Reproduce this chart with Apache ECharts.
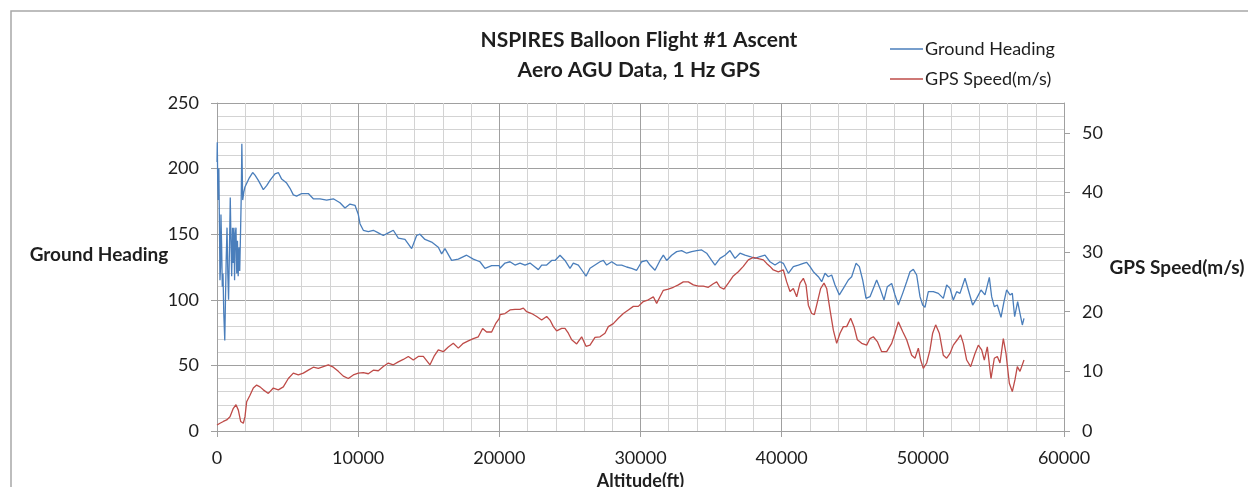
<!DOCTYPE html>
<html>
<head>
<meta charset="utf-8">
<title>NSPIRES Balloon Flight #1 Ascent</title>
<script src="https://cdn.jsdelivr.net/npm/echarts@6/dist/echarts.min.js"></script>
<style>
  html, body { margin: 0; padding: 0; background: #ffffff; }
  #chart { width: 1248px; height: 487px; }
</style>
</head>
<body>
<div id="chart"></div>
<script>
// Ground heading (deg) against altitude (ft)
const headingAlt = [
  0, 20, 50, 85, 130, 180, 210, 250, 280, 330, 375, 425, 480, 550, 600, 650, 710, 765, 820, 885,
  940, 990, 1040, 1100, 1150, 1200, 1245, 1295, 1345, 1400, 1450, 1500, 1560, 1610, 1665, 1720, 1760, 1820, 1900, 1980,
  2101, 2290, 2526, 2692, 2928, 3282, 3518, 3754, 4108, 4344, 4580, 4934, 5171, 5407, 5643, 5997, 6469, 6823, 7295, 7768,
  8240, 8712, 9066, 9420, 9775, 10011, 10129, 10365, 10719, 11073, 11427, 11781, 12136, 12490, 12844, 13316, 13788, 14142, 14378, 14733,
  15205, 15677, 15913, 16149, 16621, 17093, 17683, 18156, 18628, 18982, 19455, 19998,
  20048, 20402, 20756, 21110, 21465, 21819, 22173, 22527, 22763, 22999, 23353, 23708, 23944, 24298, 24652, 25006, 25242, 25596, 25951, 26140,
  26423, 26777, 27131, 27367, 27603, 27957, 28312, 28666, 29020, 29374, 29728, 30082, 30436, 30673, 31027, 31381, 31617, 31853, 32207, 32561,
  32915, 33270, 33624, 33978, 34332, 34686, 35040, 35276, 35631, 35985, 36339, 36693, 37047, 37401, 37756, 38110, 38464, 38818, 39172, 39527, 39880,
  40119, 40473, 40827, 41182, 41536, 41772, 42008, 42244, 42598, 42834, 43070, 43306, 43543, 43779, 44086, 44369, 44723, 44959, 45266, 45502,
  45738, 45974, 46258, 46541, 46730, 46966, 47249, 47485, 47792, 48028, 48265, 48572, 48855, 49091, 49327, 49563, 49799, 49988, 50153, 50389,
  50744, 51098, 51452, 51688, 51924, 52160, 52396, 52632, 52987, 53223, 53530, 53813, 54120, 54403, 54710, 54875, 55064, 55277, 55537, 55749,
  55938, 56174, 56339, 56504, 56717, 56882, 57048, 57166
];
const headingVal = [
  205, 220, 190, 176, 200, 150, 115, 125, 165, 140, 110, 120, 90, 69, 100, 130, 155, 120, 100, 140,
  178, 145, 118, 155, 128, 155, 115, 150, 155, 120, 145, 118, 140, 122, 150, 180, 219, 176, 182, 186,
  185, 193, 197, 195, 191, 184, 187, 191, 196, 197, 192, 189, 185, 180, 179, 181, 181, 177, 177, 176,
  177, 174, 170, 173, 172, 165, 158, 153, 152, 153, 151, 149, 151, 153, 147, 146, 139, 149, 150, 146,
  144, 140, 135, 139, 130, 131, 134, 131, 129, 124, 126, 126,
  124, 128, 129, 126.5, 128, 126.5, 128, 125, 123, 126.5, 126.5, 130, 130, 134, 130, 124, 128, 126.5, 121, 118,
  124, 126.5, 129, 130, 126.5, 129, 126.5, 126.5, 125, 124, 122.5, 129, 130, 126.5, 122.5, 130, 134, 130, 134, 136.7,
  137.5, 135.5, 136.7, 137.5, 138, 135.5, 130, 126.5, 131.6, 134, 137.5, 131.6, 135.5, 134, 133, 131.6, 133, 134, 129, 126.5, 129,
  127.8, 120.2, 125.3, 126.5, 127.8, 128.6, 125.3, 121.4, 117.6, 113.8, 120.2, 117.6, 118.9, 111.3, 103.7, 108.7, 115.1, 117.6, 127.8, 125.3,
  115.1, 101.1, 102.4, 110, 115.1, 108.7, 99.8, 110, 112.5, 103.7, 96, 104.9, 113.8, 121.4, 123.2, 118.9, 102.4, 96, 94.3, 106.2,
  106.2, 104.9, 101.1, 111.3, 108.7, 99.8, 106.2, 104.9, 116.4, 107.5, 96, 101.1, 107.5, 103.7, 117.1, 102.4, 94.8, 96, 86.6, 98.6,
  107.5, 103.7, 104.9, 87.1, 98.6, 89.7, 80.8, 85.9
];

// GPS speed (m/s) against altitude (ft)
const speedAlt = [
  0, 212, 449, 685, 921, 1157, 1346, 1511, 1676, 1865, 1983, 2101, 2337, 2573, 2810, 3046, 3282, 3636, 3990, 4344,
  4698, 5053, 5407, 5761, 6115, 6469, 6823, 7177, 7532, 7886, 8240, 8594, 8948, 9302, 9656, 10011, 10365, 10719, 11073, 11427,
  11781, 12136, 12490, 12844, 13198, 13552, 13906, 14260, 14615, 15087, 15370, 15677, 16031, 16385, 16739, 17094, 17448, 17802, 18156, 18510,
  18817, 19100, 19455, 19761, 19998,
  20048, 20402, 20756, 21110, 21465, 21701, 21937, 22291, 22645, 22999, 23353, 23590, 23826, 24062, 24416, 24652, 24888, 25124, 25478, 25832,
  26140, 26423, 26777, 27131, 27485, 27721, 28075, 28430, 28784, 29138, 29492, 29846, 30200, 30554, 30908, 31145, 31381, 31617, 31971, 32325,
  32679, 33034, 33388, 33742, 34096, 34450, 34804, 35158, 35395, 35631, 35914, 36221, 36575, 36929, 37283, 37637, 37992, 38346, 38700, 38936,
  39172, 39408, 39762,
  40119, 40355, 40591, 40827, 41064, 41300, 41536, 41725, 41890, 42126, 42315, 42480, 42763, 42999, 43188, 43425, 43661, 43897, 44133, 44369,
  44605, 44888, 45124, 45361, 45667, 46022, 46258, 46494, 46777, 47084, 47438, 47792, 48028, 48265, 48572, 48855, 49209, 49445, 49681, 49846,
  50035, 50271, 50507, 50696, 50909, 51168, 51452, 51688, 51924, 52160, 52443, 52679, 52868, 53105, 53388, 53695, 53931, 54167, 54356, 54568,
  54828, 55064, 55277, 55466, 55702, 55891, 56127, 56339, 56528, 56693, 56882, 57166
];
const speedVal = [
  1.0, 1.3, 1.6, 1.85, 2.4, 3.8, 4.4, 3.5, 1.6, 1.3, 2.4, 4.9, 6.0, 7.2, 7.7, 7.4, 6.9, 6.3, 7.2, 6.9,
  7.4, 8.8, 9.7, 9.4, 9.7, 10.2, 10.7, 10.5, 10.8, 11.1, 10.7, 10.0, 9.2, 8.8, 9.4, 9.7, 9.8, 9.6, 10.2, 10.1,
  10.8, 11.4, 11.1, 11.6, 12.0, 12.5, 11.9, 12.5, 12.5, 11.1, 12.5, 13.6, 13.3, 14.1, 14.7, 13.9, 14.7, 15.1, 15.5, 15.8,
  17.2, 16.6, 16.6, 18.1, 18.9,
  19.5, 19.7, 20.3, 20.4, 20.4, 20.6, 20.0, 19.7, 19.2, 18.6, 19.2, 18.6, 17.5, 16.8, 17.2, 17.2, 16.4, 15.3, 14.6, 15.8,
  14.2, 14.4, 15.7, 15.8, 16.4, 17.5, 18.0, 18.9, 19.7, 20.3, 20.9, 20.9, 21.7, 22.0, 22.5, 21.4, 22.5, 23.6, 23.8, 24.1,
  24.5, 25.0, 25.0, 24.5, 24.3, 24.3, 24.1, 24.7, 25.0, 24.1, 23.8, 24.8, 26.0, 26.7, 27.6, 28.7, 29.1, 28.9, 28.7, 28.1,
  27.6, 27.0, 26.7,
  27.0, 25.0, 23.4, 23.9, 22.5, 24.8, 25.6, 24.5, 21.1, 19.7, 19.5, 21.1, 23.9, 24.8, 23.9, 20.3, 16.9, 14.7, 16.4, 17.5,
  17.5, 18.9, 17.5, 15.3, 14.7, 14.4, 15.5, 15.8, 15.0, 13.3, 13.3, 14.7, 16.4, 18.3, 16.7, 15.3, 12.7, 12.2, 13.9, 11.9,
  10.5, 11.4, 13.6, 16.4, 17.8, 16.4, 12.7, 12.2, 13.0, 14.4, 15.3, 16.1, 14.7, 11.9, 10.8, 13.0, 14.4, 13.6, 11.9, 14.1,
  8.8, 12.2, 12.5, 11.4, 15.5, 13.0, 8.0, 6.6, 8.6, 10.8, 10.0, 11.9
];

// Labelled ticks on the speed axis (the axis itself runs to 55)
const speedTicks = [0, 10, 20, 30, 40, 50];

const seriesNames = ['Ground Heading', 'GPS Speed(m/s)'];
const titleLines = ['NSPIRES Balloon Flight #1 Ascent', 'Aero AGU Data, 1 Hz GPS'];

const pairs = (xs, ys) => xs.map((x, i) => [x, ys[i]]);

const FONT = 'Lato, "Open Sans", sans-serif';
const TEXT = '#1e1e1e';
const MAJOR = '#a0a0a0';
const MINOR = '#d3d3d3';

const chart = echarts.init(document.getElementById('chart'), null, { renderer: 'canvas' });

chart.setOption({
  backgroundColor: '#ffffff',
  animation: false,
  title: {
    text: titleLines.join('\n'),
    left: 634,
    top: 20,
    textAlign: 'center',
    textStyle: {
      fontFamily: FONT, fontSize: 21, fontWeight: 'bold', color: TEXT, lineHeight: 30
    }
  },
  legend: {
    data: seriesNames,
    orient: 'vertical',
    left: 885,
    top: 35,
    icon: 'rect',
    itemWidth: 33,
    itemHeight: 1.5,
    itemGap: 12,
    textStyle: { fontFamily: FONT, fontSize: 18, color: TEXT, padding: [0, 0, 0, -3] }
  },
  grid: {
    left: 217, right: 184, top: 103, bottom: 56,
    containLabel: false,
    outerBoundsMode: 'none'
  },
  graphic: [
    {
      type: 'rect',
      shape: { x: 11, y: 11, width: 1400, height: 700 },
      style: { fill: 'none', stroke: '#a8a8a8', lineWidth: 1.5 },
      silent: true
    },
    {
      type: 'text',
      x: 99, y: 255,
      style: {
        text: 'Ground Heading', fontFamily: FONT, fontSize: 19, fontWeight: 'bold',
        fill: TEXT, align: 'center', verticalAlign: 'middle'
      }
    },
    {
      type: 'text',
      x: 1177, y: 268,
      style: {
        text: 'GPS Speed(m/s)', fontFamily: FONT, fontSize: 19, fontWeight: 'bold',
        fill: TEXT, align: 'center', verticalAlign: 'middle'
      }
    }
  ],
  xAxis: {
    type: 'value',
    min: 0,
    max: 60000,
    interval: 10000,
    name: 'Altitude(ft)',
    nameLocation: 'middle',
    nameGap: 36,
    nameTextStyle: { fontFamily: FONT, fontSize: 18, fontWeight: 'bold', color: TEXT },
    axisLine: { show: true, lineStyle: { color: MAJOR, width: 1 } },
    axisTick: { show: true, length: 6, lineStyle: { color: MAJOR } },
    axisLabel: { fontFamily: FONT, fontSize: 18, color: TEXT, margin: 18, formatter: v => String(v) },
    splitLine: { show: true, lineStyle: { color: MAJOR, width: 1 } },
    minorTick: { show: false, splitNumber: 5 },
    minorSplitLine: { show: true, lineStyle: { color: MINOR, width: 1 } }
  },
  yAxis: [
    {
      type: 'value',
      min: 0,
      max: 250,
      interval: 50,
      position: 'left',
      axisLine: { show: true, lineStyle: { color: MAJOR, width: 1 } },
      axisTick: { show: true, length: 6, lineStyle: { color: MAJOR } },
      axisLabel: { fontFamily: FONT, fontSize: 18, color: TEXT, margin: 18 },
      splitLine: { show: true, lineStyle: { color: MAJOR, width: 1 } },
      minorTick: { show: false, splitNumber: 5 },
      minorSplitLine: { show: true, lineStyle: { color: MINOR, width: 1 } }
    },
    {
      type: 'value',
      min: 0,
      max: 55,
      interval: 10,
      position: 'right',
      axisLine: { show: true, lineStyle: { color: MAJOR, width: 1 } },
      axisTick: { show: true, length: 6, lineStyle: { color: MAJOR }, customValues: speedTicks },
      axisLabel: { fontFamily: FONT, fontSize: 18, color: TEXT, margin: 18, customValues: speedTicks },
      splitLine: { show: false }
    }
  ],
  series: [
    {
      name: seriesNames[0],
      type: 'line',
      yAxisIndex: 0,
      data: pairs(headingAlt, headingVal),
      showSymbol: false,
      symbol: 'none',
      color: '#4a7ebb',
      lineStyle: { width: 1.3, color: '#4a7ebb' },
      z: 3
    },
    {
      name: seriesNames[1],
      type: 'line',
      yAxisIndex: 1,
      data: pairs(speedAlt, speedVal),
      showSymbol: false,
      symbol: 'none',
      color: '#be4b48',
      lineStyle: { width: 1.3, color: '#be4b48' },
      z: 4
    }
  ]
});
</script>
</body>
</html>
